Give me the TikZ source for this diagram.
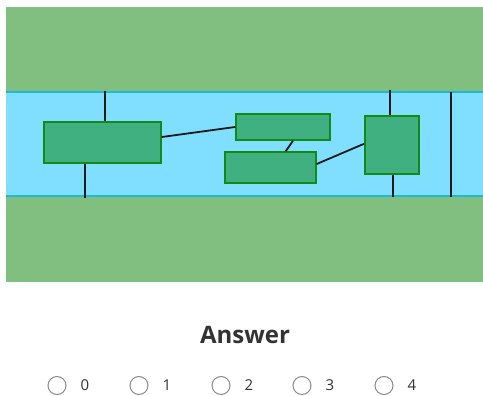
\documentclass[tikz,border=0pt]{standalone}
\usepackage{fontspec}
\setmainfont{Open Sans}
\definecolor{bandgreen}{HTML}{80BF80}
\definecolor{bandblue}{HTML}{80DFFF}
\definecolor{bandedge}{HTML}{1EB8D0}
\definecolor{boxfill}{HTML}{40B080}
\definecolor{boxedge}{HTML}{138A13}
\definecolor{wire}{HTML}{1A1A1A}
\definecolor{radio}{HTML}{8A8A8A}
\definecolor{txt}{HTML}{333333}
\begin{document}
\begin{tikzpicture}[x=1pt,y=-1pt,
  comp/.style={draw=boxedge,fill=boxfill,line width=1.5pt,inner sep=0pt,rectangle},
  wireline/.style={draw=wire,line width=1.8pt},
  radiobtn/.style={circle,draw=radio,line width=1pt,minimum size=18pt,inner sep=0pt},
  optlabel/.style={text=txt,font=\fontsize{15}{18}\selectfont,inner sep=0pt}]
\useasboundingbox (0,0) rectangle (483,396);
\fill[white] (0,0) rectangle (483,396);
% bands
\fill[bandgreen] (6,7) rectangle (483,282);
\fill[bandblue] (6,92) rectangle (483,197);
\draw[bandedge,line width=2pt] (6,92) -- (483,92);
\draw[bandedge,line width=2pt] (6,196) -- (483,196);
% components
\node[comp,minimum width=117pt,minimum height=41pt] (b1) at (102.5,142.5) {};
\node[comp,minimum width=94pt,minimum height=26pt] (b2) at (283,127) {};
\node[comp,minimum width=91pt,minimum height=31pt] (b3) at (270.5,167.5) {};
\node[comp,minimum width=54pt,minimum height=58pt] (b4) at (392,145) {};
% wire ends
\coordinate (t1) at (104.7,91);
\coordinate (u1) at (85,198);
\coordinate (t4) at (390.3,90);
\coordinate (u4) at (393,197);
\coordinate (vt) at (450.7,92);
\coordinate (vb) at (450.7,197);
% wires
\draw[wireline] (t1) -- ([xshift=2.2pt]b1.north);
\draw[wireline] ([xshift=-17.5pt]b1.south) -- (u1);
\draw[wireline] ([yshift=5.5pt]b1.east) -- (b2.west);
\draw[wireline] ([xshift=10pt]b2.south) -- ([xshift=15.2pt]b3.north);
\draw[wireline] ([yshift=3.5pt]b3.east) -- ([yshift=1.3pt]b4.west);
\draw[wireline] (t4) -- ([xshift=-1.7pt]b4.north);
\draw[wireline] ([xshift=1pt]b4.south) -- (u4);
\draw[wireline] (vt) -- (vb);
% answer
\node[text=txt,font=\fontsize{24}{28}\selectfont\bfseries,inner sep=0pt] (ans) at (245,335.5) {Answer};
\foreach \i/\x in {0/57,1/139,2/221,3/302,4/384}{
  \node[radiobtn] (r\i) at (\x,385.5) {};
  \node[optlabel,anchor=west] (l\i) at ([xshift=14pt]r\i.east) {\i};
}
\end{tikzpicture}
\end{document}
